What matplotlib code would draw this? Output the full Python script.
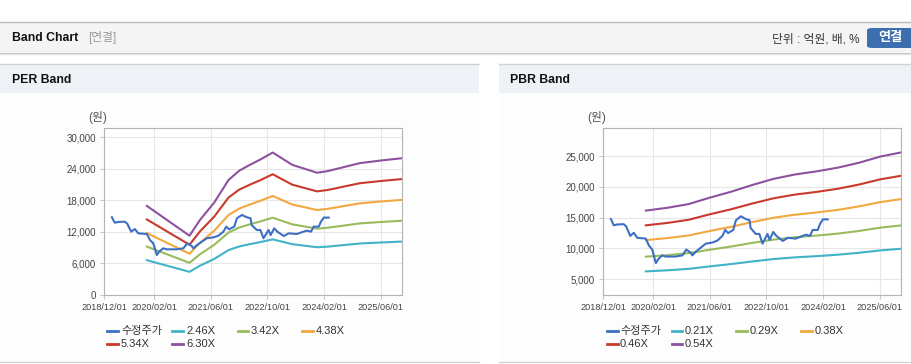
import pandas as pd
import matplotlib.pyplot as plt
import matplotlib.dates as mdates
from matplotlib.lines import Line2D
from matplotlib.patches import Rectangle, FancyBboxPatch

plt.rcParams['font.family'] = ['Liberation Sans', 'Noto Sans CJK KR', 'DejaVu Sans']

# adjusted share price (수정주가)
price_dates = ["2019-02-04", "2019-03-01", "2019-04-01", "2019-05-25", "2019-06-15",
               "2019-07-20", "2019-08-20", "2019-09-18", "2019-12-01", "2019-12-28",
               "2020-01-25", "2020-02-25", "2020-03-15", "2020-04-20", "2020-05-18",
               "2020-08-12", "2020-10-10", "2020-11-12", "2020-12-20", "2021-01-03",
               "2021-02-03", "2021-04-28", "2021-06-25", "2021-08-06", "2021-09-18",
               "2021-10-12", "2021-11-06", "2021-12-20", "2022-01-12", "2022-02-24",
               "2022-04-06", "2022-05-09", "2022-05-18", "2022-07-01", "2022-08-01",
               "2022-08-28", "2022-10-10", "2022-10-28", "2022-11-28", "2022-12-25",
               "2023-02-18", "2023-04-01", "2023-06-10", "2023-08-06", "2023-09-06",
               "2023-10-10", "2023-11-01", "2023-12-15", "2024-01-03", "2024-01-28",
               "2024-03-10"]
price = [14780, 13750, 13900, 13940, 13600, 12040, 12550, 11730, 11600, 10460,
         9830, 7610, 8240, 8880, 8690, 8690, 8880, 9830, 9320, 8880,
         9500, 10780, 10970, 11280, 12040, 13000, 12500, 13000, 14590, 15220,
         14780, 14590, 13320, 12360, 12360, 10780, 12360, 11410, 12680, 12040,
         11220, 11730, 11600, 12040, 12240, 12040, 13000, 13000, 13950, 14720,
         14720]

# EPS used for the PER band
eps_dates = ["2019-12-01", "2020-12-01", "2021-03-01", "2021-07-01", "2021-11-01",
             "2022-02-01", "2022-05-01", "2022-08-01", "2022-11-15", "2023-05-01",
             "2023-12-01", "2024-03-01", "2024-12-01", "2025-06-01", "2025-12-01"]
eps = [2690, 1790, 2265, 2790, 3472, 3753, 3925, 4090, 4300, 3930,
       3690, 3740, 3980, 4060, 4130]
per_multiples = [2.46, 3.42, 4.38, 5.34, 6.30]

# BPS used for the PBR band
bps_dates = ["2019-12-01", "2020-06-01", "2020-12-01", "2021-06-01", "2021-12-01",
             "2022-06-01", "2022-12-01", "2023-06-01", "2023-12-01", "2024-06-01",
             "2024-12-01", "2025-06-01", "2025-12-01"]
bps = [29900, 30740, 31850, 33780, 35560, 37590, 39440, 40740, 41670, 42780,
       44260, 46110, 47400]
pbr_multiples = [0.21, 0.29, 0.38, 0.46, 0.54]

band_colors = ["#41b3c9", "#98bb5b", "#f3a73f", "#c9392c", "#8e519f"]
price_color = "#3d6fc4"
xtick_labels = ["2018/12/01", "2020/02/01", "2021/06/01", "2022/10/01", "2024/02/01", "2025/06/01"]

W, H = 912, 364
fig = plt.figure(figsize=(W / 100, H / 100), dpi=100)


def fx(x):
    return x / W


def fy(y):
    return 1 - y / H


def rect(x0, y0, x1, y1, color):
    fig.add_artist(Rectangle((fx(x0), fy(y1)), fx(x1 - x0), (y1 - y0) / H,
                             transform=fig.transFigure, color=color, lw=0, zorder=0))


def hline(y, x0, x1, color, lw=1.0):
    fig.add_artist(Line2D([fx(x0), fx(x1)], [fy(y), fy(y)], transform=fig.transFigure,
                          color=color, lw=lw, zorder=1))


# page header
hline(22, 0, W, "#b8b8b8")
rect(0, 22.5, W, 52, "#f4f4f4")
hline(52.5, 0, W, "#c4c4c4")
hline(53.5, 0, W, "#e2e2e2")
fig.text(fx(12), fy(38), "Band Chart", fontsize=8.8, fontweight="bold", color="#111", va="center")
fig.text(fx(88), fy(38), "[연결]", fontsize=8.5, color="#999", va="center")
fig.text(fx(860), fy(39), "단위 : 억원, 배, %", fontsize=8.5, color="#333", va="center", ha="right")
fig.add_artist(FancyBboxPatch((fx(867), fy(48)), fx(50), 20 / H, boxstyle="round,pad=0,rounding_size=0.006",
                              transform=fig.transFigure, color="#3b6fb0", lw=0, zorder=1))
fig.text(fx(890), fy(38.5), "연결", fontsize=9.5, fontweight="bold", color="white", va="center", ha="center")

# panels
for x0, x1, name in [(0, 479, "PER Band"), (499, W, "PBR Band")]:
    rect(x0, 64, x1, 93, "#eef2f7")
    rect(x0, 93, x1, 361, "#fdfdfd")
    hline(64, x0, x1, "#d2d2d2")
    hline(361.5, x0, x1, "#d2d2d2")
    fig.text(fx(x0 + 12 if x0 == 0 else x0 + 11), fy(80), name, fontsize=8.8,
             fontweight="bold", color="#111", va="center")


def draw_band(left, base_dates, base, multiples, ylim, yticks, legend_x):
    ax = fig.add_axes([fx(left), fy(295), fx(298), (295 - 128.3) / H])
    ax.set_facecolor("white")
    ax.plot(pd.to_datetime(price_dates), price, color=price_color, lw=1.5, zorder=3)
    for m, c in zip(multiples, band_colors):
        ax.plot(pd.to_datetime(base_dates), [b * m for b in base], color=c, lw=1.5, zorder=2)
    ax.set_xlim(pd.Timestamp("2018-12-01"), pd.Timestamp("2025-12-01"))
    ax.set_ylim(*ylim)
    ax.set_xticks(pd.to_datetime(xtick_labels, format="%Y/%m/%d"))
    ax.xaxis.set_major_formatter(mdates.DateFormatter("%Y/%m/%d"))
    ax.set_yticks(yticks)
    ax.set_yticklabels([f"{v:,}" for v in yticks])
    ax.grid(True, color="#e6e6e6", lw=0.8)
    ax.set_axisbelow(True)
    ax.tick_params(axis="x", length=3, width=0.8, color="#c8c8c8", labelsize=6.6, colors="#444", pad=3)
    ax.tick_params(axis="y", length=3, width=0.8, color="#c8c8c8", labelsize=7, colors="#444", pad=3)
    ax.tick_params(color="#c8c8c8")
    for s in ax.spines.values():
        s.set_color("#b4b4b4")
        s.set_linewidth(0.8)
    # unit label
    fig.text(fx(left - 16), fy(118), "(원)", fontsize=8.5, color="#555", va="center")
    # legend (4 per row)
    names = ["수정주가"] + [f"{m:.2f}X" for m in multiples]
    colors = [price_color] + band_colors
    for i, (n, c) in enumerate(zip(names, colors)):
        x = legend_x + (i % 4) * 65
        y = 330.7 + (i // 4) * 13.5
        fig.add_artist(Line2D([fx(x), fx(x + 11)], [fy(y), fy(y)], transform=fig.transFigure,
                              color=c, lw=2))
        fig.text(fx(x + 13.5), fy(y), n, fontsize=8, color="#333", va="center")
    return ax


draw_band(104.3, eps_dates, eps, per_multiples, (0, 31700),
          [0, 6000, 12000, 18000, 24000, 30000], 107.5)
draw_band(603.3, bps_dates, bps, pbr_multiples, (2450, 29500),
          [5000, 10000, 15000, 20000, 25000], 606.5)

fig.savefig("out.png", dpi=100)
